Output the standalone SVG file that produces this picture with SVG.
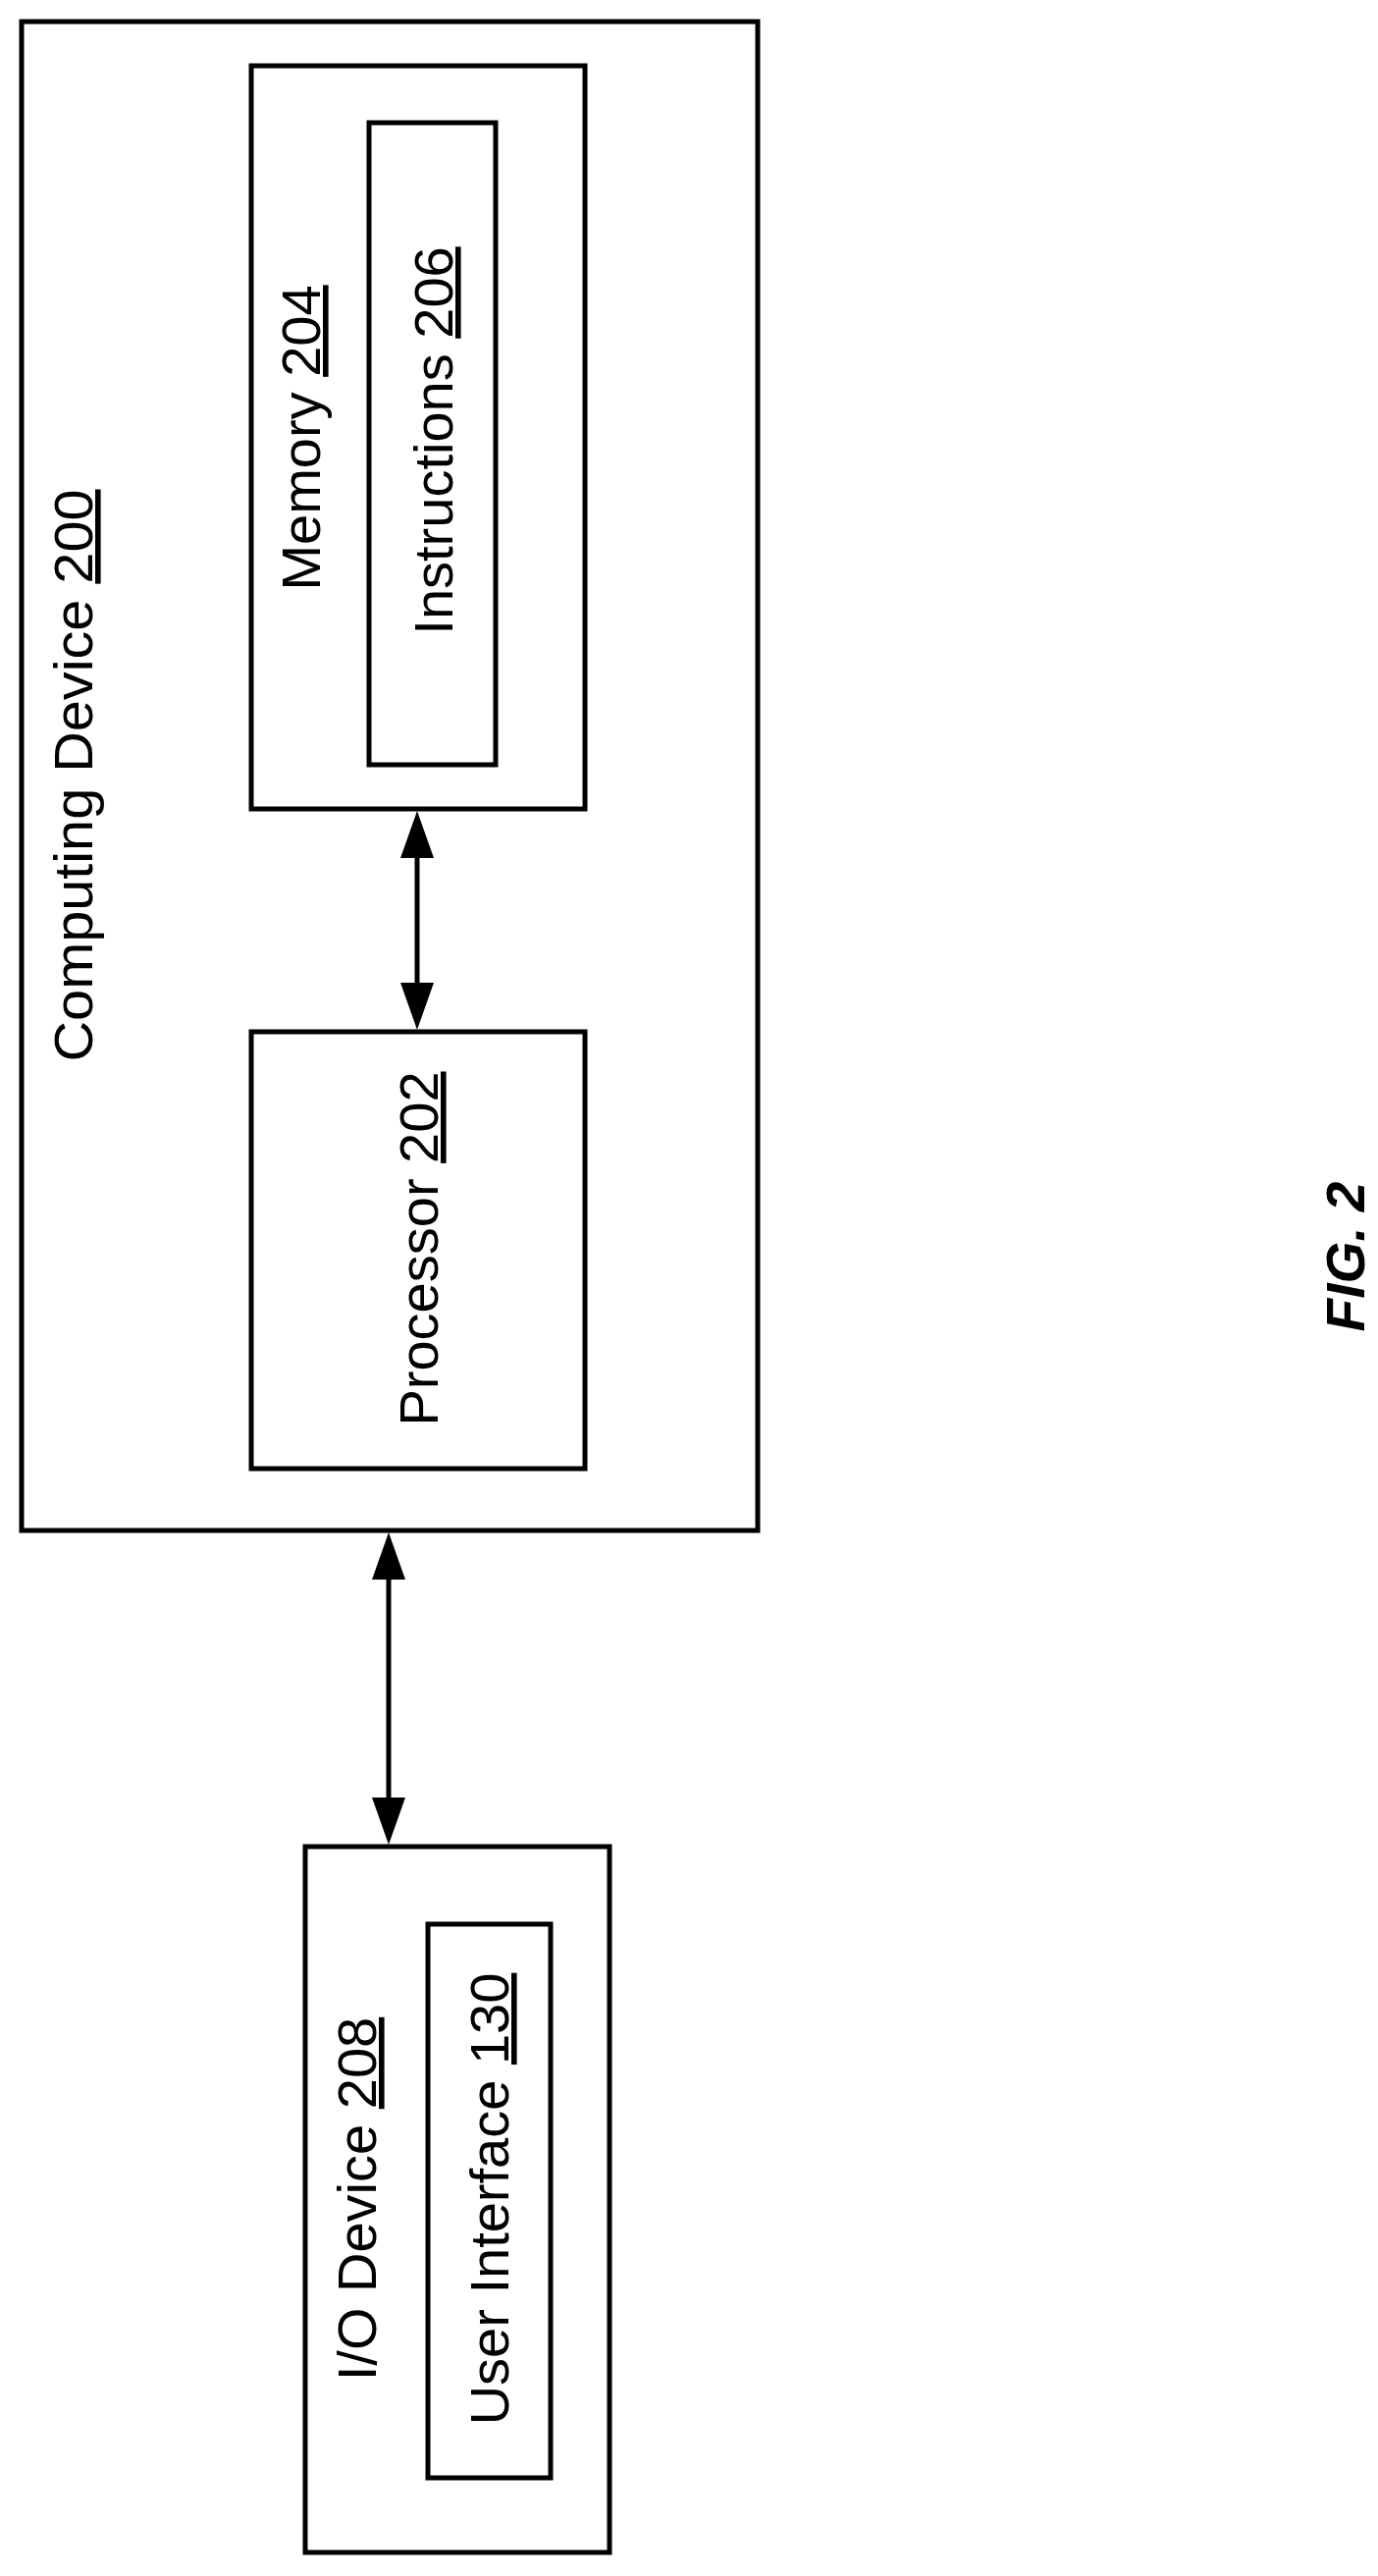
<svg xmlns="http://www.w3.org/2000/svg" width="1404" height="2624" viewBox="0 0 1404 2624">
<style>
.b{fill:none;stroke:#000;stroke-width:5}
.t{font-family:"Liberation Sans",Arial,sans-serif;font-size:56px;fill:#000;text-anchor:middle}
.c{stroke:#000;stroke-width:5;fill:none}
</style>
<rect width="1404" height="2624" fill="#fff"/>
<g id="computing-device"><rect class="b" x="22" y="22" width="750" height="1537"/>
<text class="t" transform="translate(94,790) rotate(-90)" textLength="583" lengthAdjust="spacingAndGlyphs">Computing Device <tspan text-decoration="underline">200</tspan></text></g>
<g id="memory"><rect class="b" x="256" y="67" width="340" height="757"/>
<text class="t" transform="translate(326,446) rotate(-90)">Memory <tspan text-decoration="underline">204</tspan></text></g>
<g id="instructions"><rect class="b" x="376" y="125" width="129" height="654"/>
<text class="t" transform="translate(461,449) rotate(-90)">Instructions <tspan text-decoration="underline">206</tspan></text></g>
<g id="processor"><rect class="b" x="256" y="1051" width="340" height="445"/>
<text class="t" transform="translate(446,1272) rotate(-90)">Processor <tspan text-decoration="underline">202</tspan></text></g>
<g id="io-device"><rect class="b" x="311" y="1881" width="310" height="719"/>
<text class="t" transform="translate(383,2240) rotate(-90)">I/O Device <tspan text-decoration="underline">208</tspan></text></g>
<g id="user-interface"><rect class="b" x="436" y="1960" width="125" height="564"/>
<text class="t" transform="translate(518,2240) rotate(-90)">User Interface <tspan text-decoration="underline">130</tspan></text></g>
<g id="connectors">
<line class="c" x1="425" y1="860" x2="425" y2="1015"/>
<polygon points="425,826 408,874 442,874"/>
<polygon points="425,1049 408,1001 442,1001"/>
<line class="c" x1="396" y1="1595" x2="396" y2="1845"/>
<polygon points="396,1561 379,1609 413,1609"/>
<polygon points="396,1879 379,1831 413,1831"/>
</g>
<text transform="translate(1390,1280) rotate(-90)" style="font-family:'Liberation Sans',Arial,sans-serif;font-size:55px;font-weight:bold;font-style:italic;text-anchor:middle">FIG. 2</text>
</svg>
